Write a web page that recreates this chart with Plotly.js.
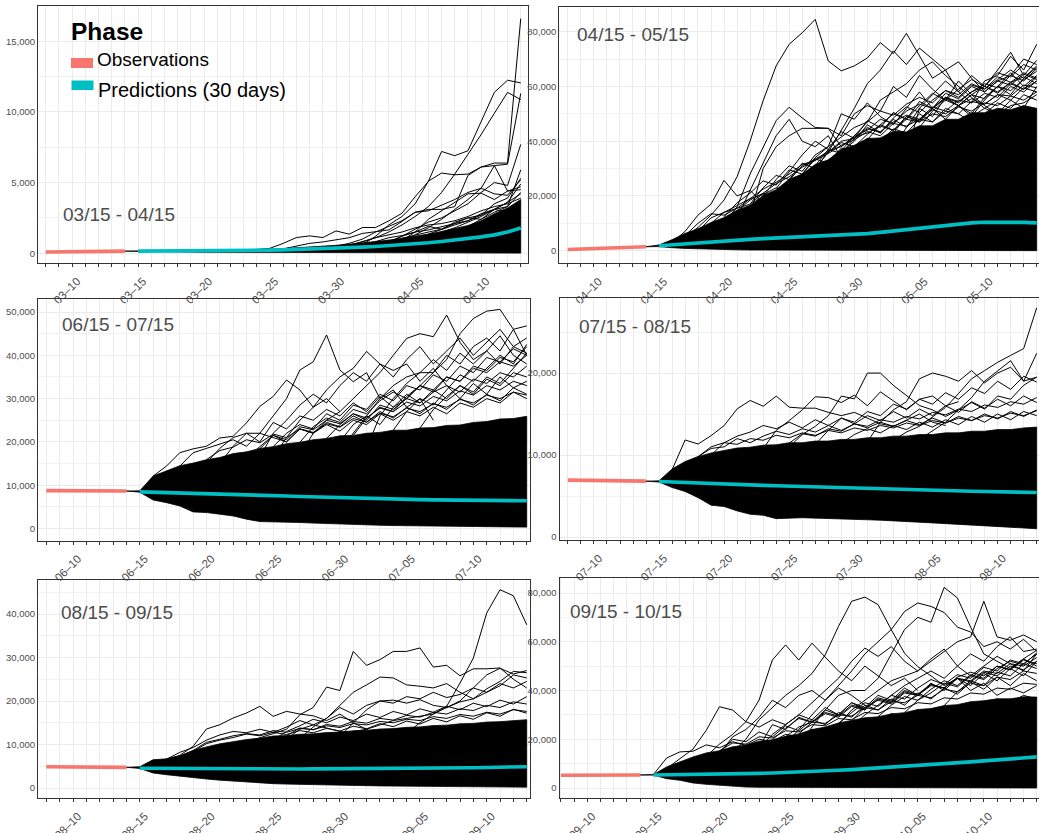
<!DOCTYPE html>
<html><head><meta charset="utf-8">
<script src="https://cdn.plot.ly/plotly-3.0.1.min.js"></script>
<style>html,body{margin:0;padding:0;background:#fff;}#chart{width:1039px;height:833px;}</style>
</head><body><div id="chart"></div>
<script>
// ---------------- DATA ----------------
// Panel 1: 03/15 - 04/15
const P1_LABEL = '03/15 - 04/15';
const P1_OBS_START = '2020-03-08';
const P1_OBS = [90, 100, 110, 120, 130, 140, 150];
const P1_PRED_START = '2020-03-15';
const P1_MEDIAN = [150,152,155,158,162,167,173,180,190,203,220,240,262,288,318,350,388,430,478,532,592,660,740,830,930,1040,1160,1300,1500,1780];
const P1_LOWER = [140,120,105,92,82,74,66,60,54,48,44,40,36,33,30,28,26,24,22,20,19,18,17,16,15,14,13,12,11,10];
const P1_UPPER = [160,170,180,190,200,212,225,238,252,266,285,330,380,430,490,560,640,720,820,930,1060,1200,1360,1540,1740,1960,2300,2800,3200,3800];
const P1_TRAJ = [
  {from: 9, y: [260,350,700,1110,1230,1110,1580,1350,1820,1820,2290,2830,4000,5080,7200,6900,7250,9330,11380,12240,12050]},
  {from: 15, y: [500,700,1000,1500,1900,2300,2900,3100,3100,3300,5500,6100,6380,6380,16600]},
  {from: 16, y: [550,800,1100,1500,2000,2600,3300,4300,5600,7000,8400,9900,11380,10870]},
  {from: 20, y: [900,1300,1800,2400,3100,3800,4600,6200,6300,11300]},
  {from: 19, y: [800,1200,1700,2200,2500,3000,3500,4300,5000,4800,7700]},
  {from: 17, y: [600,1200,2000,2600,3500,5100,5670,5550,5600,6100,6200,4400,4500]},
  {from: 20, y: [900,1500,2400,3000,3600,4200,4250,3800,4400,4700]},
  {from: 16, y: [580,800,1100,1300,1500,1800,2000,2100,2300,2600,3000,3300,3500,3900]},
  {from: 19, y: [800,1200,1500,1900,1700,2200,2500,2400,3100,2900,3500]},
  {from: 11, y: [310,480,700,800,950,1100,1400,1500,1650,2250,2900,3000,3400,3800,4300,4600,4200,4100,5200]},
  {from: 22, y: [1200,1500,1800,2200,2600,3100,3600,4200]},
  {from: 23, y: [1300,1450,1900,2400,2900,3300,5900]},
  {from: 18, y: [820,1100,1250,1500,1650,1900,2100,2500,2700,3100,3300,4300]},
  {from: 20, y: [1060,1300,1500,1700,2100,2300,2800,3100,3600,4900]},
  {from: 22, y: [1360,1700,2000,2300,2700,3500,3900,5300]}
];
const P1_XTICKS = ['03-10','03-15','03-20','03-25','03-30','04-05','04-10'];

// Panel 2: 04/15 - 05/15
const P2_LABEL = '04/15 - 05/15';
const P2_OBS_START = '2020-04-08';
const P2_OBS = [420, 560, 700, 850, 1020, 1220, 1450];
const P2_PRED_START = '2020-04-15';
const P2_MEDIAN = [1820,2200,2580,2950,3300,3640,3900,4150,4400,4630,4850,5020,5200,5380,5600,5900,6250,6700,7200,7800,8360,8900,9400,9850,10180,10400,10480,10450,10350,10180];
const P2_LOWER = [1500,1100,850,650,500,400,320,260,210,170,140,120,100,90,80,70,60,55,50,45,40,38,36,34,32,30,28,26,24,22];
const P2_UPPER = [2100,4000,6300,8000,10300,12100,14800,16600,20200,22300,26100,28000,31500,33200,37000,38500,41000,41200,43600,43400,45600,45600,48000,48000,50400,50400,52000,51500,53000,52000];
const P2_TRAJ = [
  {from: 1, y: [2600,5000,8500,13000,18500,27000,40000,54800,67500,75400,79600,84500,69300,65700,67500,70400,76000,72000,79400,71000,63000,66000,58000,54000,62000,64000,71000,66000,75400]},
  {from: 1, y: [3000,7000,13000,17000,25700,20000,22000,17500,19000,22000,24000,27000,26000,30000]},
  {from: 5, y: [10000,16000,28000,37800,47500,52400,48500,45000,44700,38000,42000,47000,55000,58000,61000,66000,69000,64000,60000,56000,52000,55000,60000,58000,62000]},
  {from: 7, y: [13000,30000,38000,42000,44700,44700,44700,42000,50000,53000,51000,60000,56000,64000,59000,55000,62000,57000,53000,50000,55000,52000,60000]},
  {from: 11, y: [19000,30000,36000,44000,52000,61000,66000,73000,68000,74000,70000,66000,69000,63000,58000,62000,64000,70000,68000]},
  {from: 9, y: [16000,24000,28000,34000,38000,50000,48000,54000,49000,46000,52000,58000,52000,48000,53000,50000,56000,60000,65000,60000,64000]},
  {from: 13, y: [23000,36000,40000,46000,43000,48000,45000,50000,47000,52000,50000,47000,50000,54000,52000,57000,55000]},
  {from: 3, y: [7000,12000,14000,15500,17000,21000,19500,23000,26000,24000,28000,31000,33000,36000,35000,39000,42000,40000,44000,47000,45000,49000,52000,50000,53000,54000,57000]},
  {from: 6, y: [12000,22000,32000,42000,48000,40000,38000,42000,34000,38000,32000]},
  {from: 2, y: [5500,10000,13500,13000,15500,19000,20500,23000,21000,26000,30000,27000,32000]},
  {from: 19, y: [35000,52000,57000,62000,58000,64000,60000,66000,72500,64000,69500]},
  {from: 4, y: [8500,11000,14500,13000,17500,16000,20500,19000,24000,22500,27000,26000,30500,29000,34000,33000,37500,36000,41000,39500,44500,43000,48000,46500,52000,51000]},
  {from: 15, y: [28000,34000,41000,38000,45000,52000,49000,56000,53000,49000,55000,60000,57000,63000,67000]},
  {from: 4, y: [10000,14000,16500,19000,22500,25000,28000,31500,33000,36500,38000,41500,43000,45500,44000,48000,47000,50000,49000,52500,51000,54000,53000,56500,55000,58000]},
  {from: 6, y: [14500,18500,21000,24500,27000,30500,33000,35500,38500,40500,43500,42000,46500,45500,48000,51500,50000,53000,55500,53500,57000,55000,59500,58000]},
  {from: 10, y: [25700,31000,33500,36000,40000,41000,44500,43500,47000,49500,48000,52500,51000,55000,54000,57500,56000,61000,59000,62000]},
  {from: 14, y: [36500,42000,44000,48000,46500,51000,53500,52000,56000,54500,58000,60000,58000,61500,63500,61000]},
  {from: 8, y: [19800,26000,31000,29000,35000,38000,41500,45000,47000,51000,49500,53500,56000,54000,58500,57000,61000,59000,63500,61500,65000,63000]},
  {from: 12, y: [31000,37000,35500,41000,45000,43000,48500,52500,50500,55000,58500,56000,60500,59000,62500,66000,63000,67500]},
  {from: 16, y: [40500,46000,50000,48000,53000,57500,55000,59000,62500,60000,65000,63500,68000,66000]},
  {from: 9, y: [22700,29000,35000,40000,37000,43500,41000,47500,45000,50500,48000,54500,52000,57500,55500,60000,58000,62000,60500,64500,62500]},
  {from: 18, y: [43000,49000,47500,52000,56000,54000,58000,61000,59500,64000,62000,66500]},
  {from: 7, y: [17000,23000,27500,26000,32000,30000,36000,39500,38000,42500,46000,44000,49000,47000,52000,55500,53000,57000,60000,57500,61500,59000,63500]},
  {from: 20, y: [45000,51000,55000,53000,57000,55500,60000,58500,62500,65500]},
  {from: 5, y: [12400,17500,21000,25500,24000,29500,28000,33500,32000,37500,36500,41000,40000,44500,43000,48000,47000,51000,50000,54500,53500,57000,56500,60500,59500]}
];
const P2_XTICKS = ['04-10','04-15','04-20','04-25','04-30','05-05','05-10'];

// Panel 3: 06/15 - 07/15
const P3_LABEL = '06/15 - 07/15';
const P3_OBS_START = '2020-06-08';
const P3_OBS = [8750, 8740, 8720, 8700, 8690, 8670, 8650];
const P3_PRED_START = '2020-06-15';
const P3_MEDIAN = [8450,8380,8300,8220,8140,8050,7960,7870,7780,7690,7600,7500,7400,7300,7200,7100,7000,6920,6850,6780,6720,6670,6620,6580,6540,6500,6470,6440,6420,6400];
const P3_LOWER = [8400,6590,5975,5200,3830,3680,3300,2900,2150,1600,1530,1450,1380,1250,1120,1000,900,820,750,680,600,560,520,480,440,410,380,360,340,320];
const P3_UPPER = [8700,12100,13300,14500,15100,15900,16400,17300,17700,18500,18900,19600,19900,20500,20800,21400,21500,22000,22200,22700,22700,23200,23300,23800,23900,24500,24700,25300,25400,25900];
const P3_TRAJ = [
  {from: 1, y: [12100,14400,17500,18400,19000,20900,21300,24400,28200,30500,34300,32000,28000,30000,27000]},
  {from: 6, y: [15000,19000,22000,22000,26000,30000,36600,38500,44700,36600,33900,36000,30000,32000,28000,30000,25000]},
  {from: 10, y: [16500,21000,25000,28000,32000,35000,37000,40900,38000,36500,38000,34000,37000,33000,30000,33500,31000,35000,32500,34000]},
  {from: 12, y: [17000,22000,25000,27000,30000,33000,36000,40000,43900,45000,44300,49300,43000,39000,41000,38000,42000,40500]},
  {from: 15, y: [18000,22000,26000,30000,33000,35000,36000,36000,39000,45000,48500,50200,50600,46000,40000]},
  {from: 14, y: [17800,20000,24000,26000,24000,28000,30000,33000,36000,40000,38000,42000,44000,41000,46000,46800]},
  {from: 5, y: [15200,18500,21000,22000,20000,24500,23000,26000,25000,27500,26000,29000,27000,30500,28000,31000,29000,32000,30000,33000,31000,34500,33000,36000,35000]},
  {from: 9, y: [16500,22000,25000,28500,31000,29000,33000,36000,34000,38000,35000,39000,42000,38000,41000,44000,40000,43000,46000,42000,44000]},
  {from: 3, y: [14400,17500,18500,19500,20500,19000,22000,21000,20000,23000,22000,24000,22500,25000,24000,26500,25000,27000,26000,28000,26500,29000,28000,30000,29000,31500,30000]},
  {from: 17, y: [18600,26000,30000,33500,36000,39000,36500,40500,38000,41000,44500,40000,38000]},
  {from: 8, y: [16300,19000,21500,20000,23000,22000,24500,23500,26000,24500,27000,25500,28000,26500,29000,27500,30000,28500,31000,29500,32500,31000]},
  {from: 5, y: [15900,18000,18800,20500,19800,21800,21000,23000,22200,24200,23400,25400,24600,26600,25800,27800,27000,28800,28000,29800,29000,30800,30000,31500,30800]},
  {from: 9, y: [18400,21500,20500,23500,22800,25000,24200,26500,25500,27800,27000,29200,28300,30500,29500,31800,30800,33000,32000,34000,33000]},
  {from: 14, y: [20800,24000,26500,25000,28500,27500,30000,29000,31500,33000,31500,34500,33500,36000,35000,37500]},
  {from: 12, y: [19900,23500,25500,24500,27500,26500,29500,31500,30000,33000,32000,35000,34000,37000,36000,38500,37500,40000]},
  {from: 16, y: [21500,25500,28000,27000,30500,33000,31500,35000,34000,37500,36500,39500,38500,42000]},
  {from: 19, y: [22700,27000,30000,28500,32000,35500,34000,37000,40000,38000,42500]},
  {from: 10, y: [18900,22000,24000,23000,26500,25000,28500,27500,31000,29500,33000,32000,35500,34000,37500,36000,39500,38500,41500,40000]},
  {from: 21, y: [23200,27500,30500,33000,31500,35000,33500,37000,40500]}
];
const P3_XTICKS = ['06-10','06-15','06-20','06-25','06-30','07-05','07-10'];

// Panel 4: 07/15 - 08/15
const P4_LABEL = '07/15 - 08/15';
const P4_OBS_START = '2020-07-08';
const P4_OBS = [6940, 6920, 6900, 6880, 6860, 6840, 6810];
const P4_PRED_START = '2020-07-15';
const P4_MEDIAN = [6770,6700,6640,6580,6510,6450,6400,6350,6300,6250,6200,6140,6080,6030,5970,5920,5880,5840,5790,5750,5710,5680,5650,5620,5580,5550,5520,5490,5460,5430];
const P4_LOWER = [6700,6040,5550,4800,3880,3710,3180,2770,2650,2240,2300,2350,2300,2250,2200,2160,2100,2050,1980,1900,1800,1720,1650,1580,1500,1400,1300,1200,1100,1000];
const P4_UPPER = [6850,8300,9200,9800,10250,10550,10850,10950,11200,11250,11500,11500,11700,11700,11900,11900,12100,12100,12300,12300,12500,12500,12700,12700,12900,12900,13100,13100,13300,13400];
const P4_TRAJ = [
  {from: 1, y: [8200,11830,11340,12360,13590,15630,16650,15950,17180,15830,15710,15710,15200,14800,15200,14500,13800,13500,14200,15000,14000,13600]},
  {from: 10, y: [11000,12500,13500,14800,17180,16850,19990,19990,18480,17260,16030,15500,14700,15500,16400,15600,17200,16800,18500,19500]},
  {from: 18, y: [11800,12800,13500,14700,15800,17500,19300,20300,21300,22150,22970,27950]},
  {from: 20, y: [11900,13000,14000,15500,17000,19000,20200,21500,19000,22400]},
  {from: 16, y: [11600,14000,15500,16500,19300,20000,19600,19000,20300,18800,20000,20700,19000,19500]},
  {from: 12, y: [11280,13000,14500,14000,15300,14800,16200,15600,16800,16200,17600,16800,18200,17500,19000,18000,19600,18900]},
  {from: 4, y: [10000,11500,12300,12800,13600,13200,14000,13300,14300,13600,14500,13800,14800,14200,15300,14500,15600,14800,16000,15200,16500,15700,16800,16000,17200,16400]},
  {from: 2, y: [9100,9800,10800,11000,12000,11500,12300,12900,12500,13200,12800,13600,13000,13800,13300,14000,13500,14200,13700,14500,13900,14700,14200,15000,14400,15300,14700,15500]},
  {from: 8, y: [10800,13000,14200,15500,17100,17000,16400,17300,16000,17700,16600,15500,16800,17200,16000,16500]},
  {from: 14, y: [11430,12500,13200,12700,13600,13100,14000,13400,14300,13700,14700,14000,15000,14300,15300,14800]},
  {from: 3, y: [9800,11000,11500,11300,12000,11800,12400,12100,12700,12400,13000,12700,13300,13000,13600,13300,13900,13600,14200,13900,14500,14200,14800,14500,15100,14800,15400]},
  {from: 10, y: [11450,12600,12300,13200,12900,13800,13500,14300,14000,14700,14400,15200,14900,15600,15300,16100,15800,16500,16200,17000]}
];
const P4_XTICKS = ['07-10','07-15','07-20','07-25','07-30','08-05','08-10'];

// Panel 5: 08/15 - 09/15
const P5_LABEL = '08/15 - 09/15';
const P5_OBS_START = '2020-08-08';
const P5_OBS = [4900, 4880, 4860, 4840, 4820, 4790, 4750];
const P5_PRED_START = '2020-08-15';
const P5_MEDIAN = [4550,4520,4490,4460,4440,4420,4400,4390,4380,4375,4370,4375,4380,4390,4400,4420,4440,4460,4480,4500,4520,4550,4580,4610,4640,4670,4720,4780,4840,4900];
const P5_LOWER = [4500,3450,3060,2680,2350,2070,1800,1580,1380,1180,1000,900,820,740,670,610,560,520,480,440,400,370,340,310,290,270,250,230,210,200];
const P5_UPPER = [4900,6500,6700,7400,8650,9450,10150,10650,11150,11450,11950,12050,12350,12450,12750,12850,13150,13250,13550,13650,13950,14050,14350,14450,14750,14850,15150,15250,15550,15700];
const P5_TRAJ = [
  {from: 14, y: [11700,12500,13000,13500,14500,15500,16000,16500,17000,18770,24130,29870,40210,45580,44200,37530]},
  {from: 8, y: [10600,11500,12500,13500,16850,18500,23200,22400,31400,28200,29500,31400,31400,32200,27800,28200,25800,27400,27400,27600,25000,23000]},
  {from: 2, y: [6600,7500,9580,13560,14550,16090,17240,18770,16470,17620,17000,16600,15500,17000,15000,13500,12000]},
  {from: 12, y: [11400,14000,16000,19000,22000,23700,25500,25300,23700,23400,23000,24000,22000,20500,22800,24500,26800,26500]},
  {from: 11, y: [11250,13500,14500,16000,18500,17000,19000,20000,20200,19500,20300,19000,18500,19800,20500,22000,23500,26000,25300]},
  {from: 20, y: [12600,15000,17000,18500,20000,23000,26000,27500,26200,27000]},
  {from: 4, y: [8400,10200,11000,11600,12400,12000,12800,12300,13200,12700,13700,13100,14200,13600,14800,14100,15400,14700,16000,15200,16600,15800,17300,16500,18100,17200]},
  {from: 10, y: [11000,13000,14300,15800,15000,16300,15500,17000,16200,17600,16800,18200,17400,18800,18000,19500,18700,20200,19300,21000]},
  {from: 2, y: [6600,8200,9300,11000,12200,13000,12700,13500,12800,14000,15500,14500,13800,13000,12500,12000]},
  {from: 15, y: [11870,15000,18000,20000,19500,21000,20500,22000,20800,21500,23000,22000,24000,23000,24500]},
  {from: 4, y: [8600,10500,11200,12000,12500,12200,13200,12800,13700,13400,14300,13900,14800,14500,15300,15000,15800,15500,16400,16000,16900,16500,17400,17000,18000,17600]},
  {from: 11, y: [12000,13800,13400,14600,14200,15300,14900,16000,15600,16700,16300,17400,17000,18200,17800,19000,18500,19800,19300]}
];
const P5_XTICKS = ['08-10','08-15','08-20','08-25','08-30','09-05','09-10'];

// Panel 6: 09/15 - 10/15
const P6_LABEL = '09/15 - 10/15';
const P6_OBS_START = '2020-09-08';
const P6_OBS = [5200, 5220, 5240, 5260, 5280, 5310, 5340];
const P6_PRED_START = '2020-09-15';
const P6_MEDIAN = [5350,5400,5450,5500,5560,5630,5750,5880,6010,6160,6310,6530,6760,7000,7270,7550,7860,8180,8500,8840,9190,9570,9950,10330,10720,11110,11510,11920,12340,12760];
const P6_LOWER = [5300,3840,3160,2060,1510,1100,700,410,300,200,140,120,100,90,80,70,60,55,50,45,40,38,36,34,32,30,28,26,24,22];
const P6_UPPER = [5500,8640,10700,12760,14400,15300,16900,17600,19200,19800,21200,22200,24000,25000,26700,27600,28800,29200,30400,30900,32200,32600,33800,34200,35400,35800,36600,36600,37400,37300];
const P6_TRAJ = [
  {from: 0, y: [5500,12300,14800,15100,17700,16500,19000,17500,20000,19000,22000,21000,24000,22500,26000,24000]},
  {from: 1, y: [8000,12000,16000,23700,33340,31970,27170,25000,28000,26000,30000,28000,33000,30000,35000,32000]},
  {from: 4, y: [13000,18000,22000,27200,36100,52500,58700,52500,59400,53900,48000,44000,50000,46000,42000,45000,40000]},
  {from: 6, y: [15000,20000,28000,33000,38000,42000,47000,54600,66300,76600,78300,75200,64900,55300,49800,46000,42000,45000,40000,43000,38000,41000,39000,42000]},
  {from: 11, y: [18000,25000,32000,38000,40000,40000,45000,55000,65000,70000,68000,82300,78000,66000,55000,52000,49000,53000,50000]},
  {from: 13, y: [19500,26000,32000,36000,40000,44000,46000,48000,52000,56000,60000,62000,76600,62000,60600,62800,60000]},
  {from: 10, y: [18000,24000,30000,36000,42000,48000,55000,60000,65000,72400,75900,74500,72000,66000,64000,58000,60000,57000,61000,56000]},
  {from: 14, y: [20000,25000,30000,34000,38000,42000,45000,48000,45000,50000,55000,52000,58000,62000,56000,57000]},
  {from: 8, y: [16500,22000,26000,30000,35000,40000,45000,52000,57400,54000,58000,52000,48000,53000,57000,50000,46000,50000,54000,51000,48000,55000]},
  {from: 8, y: [16900,26000,24000,29000,27000,32000,30000,35000,33000,38000,36000,41000,38000,43000,40000,45000,42000,47000,44000,49000,46000,52000]},
  {from: 5, y: [14800,20000,19000,23000,21000,25500,23500,28000,26000,31000,29000,34000,32000,36500,34000,39000,36500,41000,38500,43500,40500,45500,42000,47000,44000]},
  {from: 5, y: [14000,21000,24000,29000,36000,33000,38000,40000,36000,41000,38000,34000]},
  {from: 12, y: [19300,23000,26000,24500,28000,27000,30500,29000,32000,30500,33500,32000,35000,33500,36500,35000,38000,36500]},
  {from: 5, y: [15300,18500,18000,21000,20500,23500,23000,26000,25500,28500,28000,31000,30500,33000,32500,35000,34500,37000,36500,39000,38500,41000,40500,43000,42500]},
  {from: 10, y: [21000,25000,27000,26500,30000,29500,33000,32000,35500,35000,38000,37000,40500,39500,43000,42000,45500,44500,48000,47000]},
  {from: 15, y: [27600,33000,36000,34500,39000,38000,42000,41000,45000,44000,48000,47000,51000,50000,53500]},
  {from: 14, y: [26500,31000,35000,33500,38000,36500,41000,44500,42500,46500,45000,49500,48000,52500,51000,55000]},
  {from: 17, y: [29200,34000,37500,36000,40500,44000,42000,46500,45000,50000,48500,53000,56500]},
  {from: 11, y: [22200,27000,30500,29000,33500,32000,36500,35000,39500,38000,42500,41000,45500,47500,46000,50000,48500,52500,51000]},
  {from: 19, y: [30900,36000,39000,43000,41500,46000,44500,49000,52000,50500,55500]},
  {from: 9, y: [19800,24500,28500,27000,31000,29500,34000,32500,37000,35500,40000,38500,42500,41000,45000,43500,47500,46000,50000,48500,52000]},
  {from: 22, y: [33800,39500,44000,42000,47500,46000,51000,49000]}
];
const P6_XTICKS = ['09-10','09-15','09-20','09-25','09-30','10-05','10-10'];

const YEAR = '2020';
const LEGEND_TITLE = 'Phase';
const LEGEND_OBS = 'Observations';
const LEGEND_PRED = 'Predictions (30 days)';

// ---------------- LAYOUT CONFIG (positions / styles) ----------------
const W = 1039, H = 833;
const px = v => v / W, py = v => 1 - v / H;
const GEOM = [
  {x: [38, 528],      y: [6, 263],       xr: ['2020-03-07 10:00', '2020-04-13 13:12'], yr: [-690, 17490], dy: 5000,  lab: [61, 214]},
  {x: [559.3, 1038.5],y: [6.5, 263.3],   xr: ['2020-04-07 08:30', '2020-05-14 03:20'], yr: [-4600, 89200], dy: 20000, lab: [575, 35]},
  {x: [38, 529.5],    y: [298.5, 540.5], xr: ['2020-06-07 09:00', '2020-07-14 05:00'], yr: [-2770, 53120], dy: 10000, lab: [60, 324]},
  {x: [559.5, 1038.5],y: [298, 540],     xr: ['2020-07-07 08:30', '2020-08-13 03:20'], yr: [-366, 29146], dy: 10000, lab: [577, 326]},
  {x: [38, 529.5],    y: [580, 798],     xr: ['2020-08-07 09:00', '2020-09-13 05:00'], yr: [-2299, 47816], dy: 10000, lab: [59, 612]},
  {x: [559.5, 1038.5],y: [577.7, 798],   xr: ['2020-09-07 21:30', '2020-10-14 03:15'], yr: [-4103, 86277], dy: 20000, lab: [567.5, 611]}
];

const PANELS = [
  {label: P1_LABEL, obsStart: P1_OBS_START, obs: P1_OBS, predStart: P1_PRED_START, med: P1_MEDIAN, low: P1_LOWER, up: P1_UPPER, traj: P1_TRAJ, ticks: P1_XTICKS},
  {label: P2_LABEL, obsStart: P2_OBS_START, obs: P2_OBS, predStart: P2_PRED_START, med: P2_MEDIAN, low: P2_LOWER, up: P2_UPPER, traj: P2_TRAJ, ticks: P2_XTICKS},
  {label: P3_LABEL, obsStart: P3_OBS_START, obs: P3_OBS, predStart: P3_PRED_START, med: P3_MEDIAN, low: P3_LOWER, up: P3_UPPER, traj: P3_TRAJ, ticks: P3_XTICKS},
  {label: P4_LABEL, obsStart: P4_OBS_START, obs: P4_OBS, predStart: P4_PRED_START, med: P4_MEDIAN, low: P4_LOWER, up: P4_UPPER, traj: P4_TRAJ, ticks: P4_XTICKS},
  {label: P5_LABEL, obsStart: P5_OBS_START, obs: P5_OBS, predStart: P5_PRED_START, med: P5_MEDIAN, low: P5_LOWER, up: P5_UPPER, traj: P5_TRAJ, ticks: P5_XTICKS},
  {label: P6_LABEL, obsStart: P6_OBS_START, obs: P6_OBS, predStart: P6_PRED_START, med: P6_MEDIAN, low: P6_LOWER, up: P6_UPPER, traj: P6_TRAJ, ticks: P6_XTICKS}
];

const OBS_COLOR = '#F8766D', PRED_COLOR = '#00BFC4';
const FONT = 'Liberation Sans, Arial, Helvetica, sans-serif';

function addDays(s, n) {
  const d = new Date(s + 'T00:00:00Z');
  d.setUTCDate(d.getUTCDate() + n);
  return d.toISOString().slice(0, 10);
}
function dates(start, n) { return Array.from({length: n}, (_, i) => addDays(start, i)); }

const traces = [];
const layout = {
  width: W, height: H, margin: {l: 0, r: 0, t: 0, b: 0},
  paper_bgcolor: '#ffffff', plot_bgcolor: '#ffffff',
  showlegend: false, hovermode: false,
  font: {family: FONT, color: '#4d4d4d'},
  annotations: [], shapes: []
};

PANELS.forEach((p, i) => {
  const g = GEOM[i];
  const xa = i === 0 ? 'x' : 'x' + (i + 1);
  const ya = i === 0 ? 'y' : 'y' + (i + 1);
  const obsDates = dates(p.obsStart, p.obs.length);
  const predDates = dates(p.predStart, p.med.length);
  const lastObsDate = obsDates[obsDates.length - 1];
  const lastObs = p.obs[p.obs.length - 1];

  // dense simulation envelope
  traces.push({
    type: 'scatter', mode: 'lines', xaxis: xa, yaxis: ya,
    x: [lastObsDate].concat(predDates, predDates.slice().reverse(), [lastObsDate]),
    y: [lastObs].concat(p.up, p.low.slice().reverse(), [lastObs]),
    fill: 'toself', fillcolor: '#000000', line: {color: '#000000', width: 0.8}
  });
  // individual simulated trajectories
  p.traj.forEach(t => {
    traces.push({
      type: 'scatter', mode: 'lines', xaxis: xa, yaxis: ya,
      x: predDates.slice(t.from, t.from + t.y.length), y: t.y,
      line: {color: '#000000', width: 1}
    });
  });
  // observations
  traces.push({
    type: 'scatter', mode: 'lines', xaxis: xa, yaxis: ya,
    x: obsDates, y: p.obs, line: {color: OBS_COLOR, width: 3.6}
  });
  // predictions (median)
  traces.push({
    type: 'scatter', mode: 'lines', xaxis: xa, yaxis: ya,
    x: predDates, y: p.med, line: {color: PRED_COLOR, width: 3.6}
  });

  const xkey = i === 0 ? 'xaxis' : 'xaxis' + (i + 1);
  const ykey = i === 0 ? 'yaxis' : 'yaxis' + (i + 1);
  layout[xkey] = {
    type: 'date', domain: [px(g.x[0]), px(g.x[1])], range: g.xr, anchor: ya,
    tickmode: 'array', tickvals: p.ticks.map(t => YEAR + '-' + t),
    ticktext: p.ticks.map(t => t.replace('-', '\u2013')),
    tickangle: -45, tickfont: {size: 11.5, color: '#4d4d4d', family: FONT},
    ticklabelshift: 5, ticklabelstandoff: 3,
    ticks: 'outside', ticklen: 3, tickcolor: '#333333', tickwidth: 1,
    showgrid: true, gridcolor: '#ebebeb', gridwidth: 1,
    minor: {tickmode: 'linear', tick0: p.obsStart, dtick: 86400000, ticks: 'outside', ticklen: 3,
            tickcolor: '#333333', showgrid: true, gridcolor: '#ebebeb', gridwidth: 1},
    showline: true, linecolor: '#333333', linewidth: 1, mirror: true, zeroline: false, fixedrange: true
  };
  layout[ykey] = {
    domain: [py(g.y[1]), py(g.y[0])], range: g.yr, anchor: xa,
    tickmode: 'linear', tick0: 0, dtick: g.dy, tickformat: ',d',
    tickfont: {size: 9.5, color: '#4d4d4d', family: FONT},
    ticks: '', showgrid: true, gridcolor: '#ebebeb', gridwidth: 1,
    minor: {tickmode: 'linear', tick0: 0, dtick: g.dy / 2, showgrid: true, gridcolor: '#f2f2f2', gridwidth: 1},
    showline: true, linecolor: '#333333', linewidth: 1, mirror: true, zeroline: false, fixedrange: true
  };
  layout.annotations.push({
    xref: 'paper', yref: 'paper', x: px(g.lab[0]), y: py(g.lab[1]),
    xanchor: 'left', yanchor: 'middle', showarrow: false, text: p.label,
    font: {size: 19, color: '#4d4d4d', family: FONT}
  });
});

// legend drawn in panel 1
layout.annotations.push(
  {xref: 'paper', yref: 'paper', x: px(69), y: py(31.5), xanchor: 'left', yanchor: 'middle', showarrow: false,
   text: '<b>' + LEGEND_TITLE + '</b>', font: {size: 24.5, color: '#000000', family: FONT}},
  {xref: 'paper', yref: 'paper', x: px(95), y: py(60), xanchor: 'left', yanchor: 'middle', showarrow: false,
   text: LEGEND_OBS, font: {size: 19, color: '#000000', family: FONT}},
  {xref: 'paper', yref: 'paper', x: px(96), y: py(89.5), xanchor: 'left', yanchor: 'middle', showarrow: false,
   text: LEGEND_PRED, font: {size: 20, color: '#000000', family: FONT}}
);
layout.shapes.push(
  {type: 'rect', xref: 'paper', yref: 'paper', x0: px(71), x1: px(93), y0: py(68), y1: py(58), fillcolor: OBS_COLOR, line: {width: 0}},
  {type: 'rect', xref: 'paper', yref: 'paper', x0: px(71.5), x1: px(93.5), y0: py(90), y1: py(80.5), fillcolor: PRED_COLOR, line: {width: 0}}
);

Plotly.newPlot('chart', traces, layout, {staticPlot: true, displayModeBar: false});
</script></body></html>
